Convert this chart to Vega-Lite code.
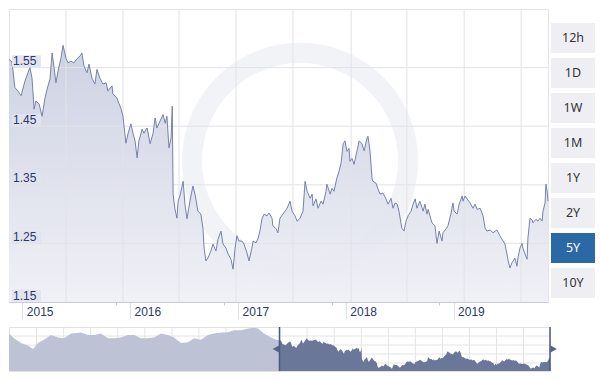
{
  "$schema": "https://vega.github.io/schema/vega-lite/v6.json",
  "padding": {"left": 6, "top": 8, "right": 0, "bottom": 0},
  "background": "#ffffff",
  "config": {"font": "Liberation Sans", "view": {"stroke": null}},
  "datasets": {
    "rates": [
      {"date":"2014-12-18","rate":1.564},{"date":"2014-12-28","rate":1.560},{"date":"2015-01-07","rate":1.516},{"date":"2015-01-17","rate":1.510},
      {"date":"2015-01-28","rate":1.502},{"date":"2015-02-10","rate":1.527},{"date":"2015-02-20","rate":1.541},{"date":"2015-02-27","rate":1.550},
      {"date":"2015-03-06","rate":1.532},{"date":"2015-03-13","rate":1.479},{"date":"2015-03-19","rate":1.493},{"date":"2015-03-30","rate":1.488},
      {"date":"2015-04-09","rate":1.467},{"date":"2015-04-19","rate":1.498},{"date":"2015-04-26","rate":1.513},{"date":"2015-05-06","rate":1.531},
      {"date":"2015-05-13","rate":1.575},{"date":"2015-05-19","rate":1.553},{"date":"2015-05-26","rate":1.524},{"date":"2015-06-02","rate":1.544},
      {"date":"2015-06-12","rate":1.566},{"date":"2015-06-19","rate":1.588},{"date":"2015-06-29","rate":1.566},{"date":"2015-07-06","rate":1.558},
      {"date":"2015-07-16","rate":1.561},{"date":"2015-07-26","rate":1.558},{"date":"2015-08-05","rate":1.565},{"date":"2015-08-16","rate":1.570},
      {"date":"2015-08-22","rate":1.575},{"date":"2015-08-29","rate":1.553},{"date":"2015-09-08","rate":1.541},{"date":"2015-09-15","rate":1.556},
      {"date":"2015-09-25","rate":1.532},{"date":"2015-10-05","rate":1.522},{"date":"2015-10-12","rate":1.547},{"date":"2015-10-22","rate":1.532},
      {"date":"2015-11-01","rate":1.522},{"date":"2015-11-12","rate":1.524},{"date":"2015-11-18","rate":1.510},{"date":"2015-12-02","rate":1.519},
      {"date":"2015-12-05","rate":1.505},{"date":"2015-12-19","rate":1.498},{"date":"2015-12-22","rate":1.493},{"date":"2016-01-01","rate":1.481},
      {"date":"2016-01-08","rate":1.467},{"date":"2016-01-18","rate":1.421},{"date":"2016-01-25","rate":1.437},{"date":"2016-02-04","rate":1.454},
      {"date":"2016-02-11","rate":1.438},{"date":"2016-02-18","rate":1.425},{"date":"2016-02-25","rate":1.396},{"date":"2016-03-02","rate":1.425},
      {"date":"2016-03-13","rate":1.445},{"date":"2016-03-19","rate":1.438},{"date":"2016-03-30","rate":1.447},{"date":"2016-04-09","rate":1.420},
      {"date":"2016-04-19","rate":1.438},{"date":"2016-04-26","rate":1.464},{"date":"2016-05-02","rate":1.447},{"date":"2016-05-13","rate":1.459},
      {"date":"2016-05-23","rate":1.470},{"date":"2016-05-30","rate":1.455},{"date":"2016-06-05","rate":1.467},{"date":"2016-06-12","rate":1.413},
      {"date":"2016-06-19","rate":1.430},{"date":"2016-06-23","rate":1.484},{"date":"2016-06-26","rate":1.334},{"date":"2016-07-02","rate":1.309},
      {"date":"2016-07-09","rate":1.293},{"date":"2016-07-13","rate":1.322},{"date":"2016-07-19","rate":1.331},{"date":"2016-07-30","rate":1.356},
      {"date":"2016-08-05","rate":1.317},{"date":"2016-08-12","rate":1.292},{"date":"2016-08-22","rate":1.322},{"date":"2016-09-01","rate":1.348},
      {"date":"2016-09-08","rate":1.334},{"date":"2016-09-18","rate":1.305},{"date":"2016-09-28","rate":1.300},{"date":"2016-10-05","rate":1.276},
      {"date":"2016-10-09","rate":1.242},{"date":"2016-10-15","rate":1.220},{"date":"2016-10-22","rate":1.225},{"date":"2016-11-01","rate":1.237},
      {"date":"2016-11-08","rate":1.249},{"date":"2016-11-18","rate":1.237},{"date":"2016-11-25","rate":1.257},{"date":"2016-12-05","rate":1.271},
      {"date":"2016-12-12","rate":1.249},{"date":"2016-12-22","rate":1.242},{"date":"2016-12-29","rate":1.232},{"date":"2017-01-08","rate":1.223},
      {"date":"2017-01-15","rate":1.206},{"date":"2017-01-22","rate":1.242},{"date":"2017-01-28","rate":1.263},{"date":"2017-02-04","rate":1.254},
      {"date":"2017-02-14","rate":1.254},{"date":"2017-02-21","rate":1.249},{"date":"2017-03-03","rate":1.234},{"date":"2017-03-10","rate":1.220},
      {"date":"2017-03-20","rate":1.242},{"date":"2017-03-24","rate":1.254},{"date":"2017-04-03","rate":1.251},{"date":"2017-04-10","rate":1.259},
      {"date":"2017-04-16","rate":1.271},{"date":"2017-04-23","rate":1.292},{"date":"2017-04-30","rate":1.300},{"date":"2017-05-10","rate":1.297},
      {"date":"2017-05-17","rate":1.302},{"date":"2017-05-27","rate":1.293},{"date":"2017-05-30","rate":1.280},{"date":"2017-06-10","rate":1.275},
      {"date":"2017-06-16","rate":1.268},{"date":"2017-06-23","rate":1.293},{"date":"2017-07-03","rate":1.300},{"date":"2017-07-10","rate":1.305},
      {"date":"2017-07-17","rate":1.310},{"date":"2017-07-27","rate":1.322},{"date":"2017-08-03","rate":1.305},{"date":"2017-08-13","rate":1.297},
      {"date":"2017-08-20","rate":1.288},{"date":"2017-08-27","rate":1.291},{"date":"2017-08-30","rate":1.293},{"date":"2017-09-09","rate":1.305},
      {"date":"2017-09-16","rate":1.356},{"date":"2017-09-23","rate":1.339},{"date":"2017-10-03","rate":1.327},{"date":"2017-10-10","rate":1.334},
      {"date":"2017-10-13","rate":1.314},{"date":"2017-10-23","rate":1.326},{"date":"2017-10-30","rate":1.310},{"date":"2017-11-09","rate":1.322},
      {"date":"2017-11-16","rate":1.317},{"date":"2017-11-26","rate":1.339},{"date":"2017-11-29","rate":1.351},{"date":"2017-12-10","rate":1.334},
      {"date":"2017-12-16","rate":1.344},{"date":"2017-12-23","rate":1.339},{"date":"2018-01-02","rate":1.362},{"date":"2018-01-09","rate":1.373},
      {"date":"2018-01-16","rate":1.387},{"date":"2018-01-23","rate":1.420},{"date":"2018-01-29","rate":1.425},{"date":"2018-02-05","rate":1.407},
      {"date":"2018-02-12","rate":1.412},{"date":"2018-02-15","rate":1.390},{"date":"2018-02-22","rate":1.395},{"date":"2018-03-01","rate":1.385},
      {"date":"2018-03-11","rate":1.408},{"date":"2018-03-18","rate":1.425},{"date":"2018-03-28","rate":1.420},{"date":"2018-04-04","rate":1.408},
      {"date":"2018-04-14","rate":1.430},{"date":"2018-04-17","rate":1.433},{"date":"2018-04-24","rate":1.408},{"date":"2018-05-01","rate":1.360},
      {"date":"2018-05-04","rate":1.356},{"date":"2018-05-14","rate":1.353},{"date":"2018-05-21","rate":1.343},{"date":"2018-05-28","rate":1.334},
      {"date":"2018-06-07","rate":1.336},{"date":"2018-06-17","rate":1.326},{"date":"2018-06-24","rate":1.317},{"date":"2018-07-04","rate":1.327},
      {"date":"2018-07-11","rate":1.310},{"date":"2018-07-18","rate":1.319},{"date":"2018-07-25","rate":1.317},{"date":"2018-07-31","rate":1.305},
      {"date":"2018-08-10","rate":1.276},{"date":"2018-08-17","rate":1.271},{"date":"2018-08-24","rate":1.288},{"date":"2018-08-31","rate":1.297},
      {"date":"2018-09-10","rate":1.305},{"date":"2018-09-17","rate":1.317},{"date":"2018-09-24","rate":1.326},{"date":"2018-09-30","rate":1.310},
      {"date":"2018-10-10","rate":1.322},{"date":"2018-10-21","rate":1.305},{"date":"2018-10-27","rate":1.317},{"date":"2018-11-03","rate":1.300},
      {"date":"2018-11-07","rate":1.308},{"date":"2018-11-20","rate":1.285},{"date":"2018-11-30","rate":1.280},{"date":"2018-12-07","rate":1.250},
      {"date":"2018-12-14","rate":1.271},{"date":"2018-12-24","rate":1.254},{"date":"2018-12-27","rate":1.268},{"date":"2019-01-07","rate":1.275},
      {"date":"2019-01-13","rate":1.280},{"date":"2019-01-23","rate":1.300},{"date":"2019-01-30","rate":1.319},{"date":"2019-02-03","rate":1.305},
      {"date":"2019-02-13","rate":1.300},{"date":"2019-02-20","rate":1.317},{"date":"2019-03-02","rate":1.331},{"date":"2019-03-05","rate":1.322},
      {"date":"2019-03-12","rate":1.331},{"date":"2019-03-19","rate":1.326},{"date":"2019-03-29","rate":1.319},{"date":"2019-04-08","rate":1.310},
      {"date":"2019-04-15","rate":1.317},{"date":"2019-04-22","rate":1.308},{"date":"2019-05-02","rate":1.310},{"date":"2019-05-12","rate":1.297},
      {"date":"2019-05-19","rate":1.276},{"date":"2019-05-25","rate":1.271},{"date":"2019-06-05","rate":1.273},{"date":"2019-06-15","rate":1.268},
      {"date":"2019-06-22","rate":1.271},{"date":"2019-06-28","rate":1.273},{"date":"2019-07-08","rate":1.263},{"date":"2019-07-19","rate":1.254},
      {"date":"2019-07-25","rate":1.249},{"date":"2019-08-01","rate":1.232},{"date":"2019-08-05","rate":1.220},{"date":"2019-08-11","rate":1.208},
      {"date":"2019-08-18","rate":1.217},{"date":"2019-08-28","rate":1.225},{"date":"2019-09-04","rate":1.211},{"date":"2019-09-07","rate":1.225},
      {"date":"2019-09-14","rate":1.242},{"date":"2019-09-21","rate":1.250},{"date":"2019-09-24","rate":1.242},{"date":"2019-10-01","rate":1.232},
      {"date":"2019-10-08","rate":1.223},{"date":"2019-10-11","rate":1.259},{"date":"2019-10-18","rate":1.293},{"date":"2019-10-25","rate":1.290},
      {"date":"2019-10-28","rate":1.285},{"date":"2019-11-07","rate":1.291},{"date":"2019-11-14","rate":1.288},{"date":"2019-11-21","rate":1.293},
      {"date":"2019-11-28","rate":1.288},{"date":"2019-12-01","rate":1.305},{"date":"2019-12-08","rate":1.319},{"date":"2019-12-11","rate":1.351},
      {"date":"2019-12-15","rate":1.339},{"date":"2019-12-18","rate":1.322}
    ],
    "early": [
      {"date":"2009-12-18","rate":1.645},{"date":"2010-01-21","rate":1.59},{"date":"2010-03-09","rate":1.53},{"date":"2010-04-25","rate":1.50},
      {"date":"2010-05-29","rate":1.455},{"date":"2010-07-02","rate":1.53},{"date":"2010-08-11","rate":1.57},{"date":"2010-09-28","rate":1.63},
      {"date":"2010-11-14","rate":1.60},{"date":"2010-12-24","rate":1.59},{"date":"2011-02-10","rate":1.65},{"date":"2011-04-18","rate":1.66},
      {"date":"2011-06-04","rate":1.63},{"date":"2011-07-15","rate":1.63},{"date":"2011-08-31","rate":1.65},{"date":"2011-10-17","rate":1.59},
      {"date":"2011-11-27","rate":1.59},{"date":"2012-01-13","rate":1.60},{"date":"2012-02-29","rate":1.63},{"date":"2012-04-10","rate":1.63},
      {"date":"2012-05-27","rate":1.59},{"date":"2012-07-13","rate":1.59},{"date":"2012-08-23","rate":1.60},{"date":"2012-10-09","rate":1.65},
      {"date":"2012-11-25","rate":1.63},{"date":"2013-01-05","rate":1.60},{"date":"2013-02-21","rate":1.53},{"date":"2013-04-10","rate":1.54},
      {"date":"2013-05-20","rate":1.59},{"date":"2013-07-06","rate":1.57},{"date":"2013-08-22","rate":1.63},{"date":"2013-10-02","rate":1.65},
      {"date":"2013-11-18","rate":1.66},{"date":"2014-01-04","rate":1.665},{"date":"2014-02-14","rate":1.69},{"date":"2014-04-02","rate":1.69},
      {"date":"2014-05-20","rate":1.71},{"date":"2014-06-29","rate":1.72},{"date":"2014-07-26","rate":1.71},{"date":"2014-09-04","rate":1.65},
      {"date":"2014-10-22","rate":1.60},{"date":"2014-11-24","rate":1.57},{"date":"2014-12-18","rate":1.564}
    ],
    "vgrid": [
      {"date":"2015-06-29"},{"date":"2016-01-08"},{"date":"2016-07-16"},{"date":"2017-01-25"},{"date":"2017-08-06"},
      {"date":"2018-02-19"},{"date":"2018-08-27"},{"date":"2019-03-09"},{"date":"2019-09-18"}
    ],
    "hgrid": [{"rate":1.25},{"rate":1.35},{"rate":1.45},{"rate":1.55}],
    "ylab": [{"rate":1.55},{"rate":1.45},{"rate":1.35},{"rate":1.25},{"rate":1.15}],
    "ngrid": [
      {"date":"2010-06-22"},{"date":"2010-12-22"},{"date":"2011-06-22"},{"date":"2011-12-22"},{"date":"2012-06-22"},
      {"date":"2012-12-22"},{"date":"2013-06-22"},{"date":"2013-12-22"},{"date":"2014-06-22"},{"date":"2014-12-22"},
      {"date":"2015-06-22"},{"date":"2015-12-22"},{"date":"2016-06-22"},{"date":"2016-12-22"},{"date":"2017-06-22"},
      {"date":"2017-12-22"},{"date":"2018-06-22"},{"date":"2018-12-22"},{"date":"2019-06-22"}
    ],
    "ngridh": [{"rate":1.28},{"rate":1.3925},{"rate":1.505},{"rate":1.6175}],
    "handles": [{"date":"2014-12-18","dir":"left"},{"date":"2019-12-18","dir":"right"}],
    "buttons": [
      {"label":"12h"},{"label":"1D"},{"label":"1W"},{"label":"1M"},
      {"label":"1Y"},{"label":"2Y"},{"label":"5Y"},{"label":"10Y"}
    ]
  },
  "spacing": 5,
  "vconcat": [
    {
      "spacing": 0,
      "hconcat": [
        {
          "width": 539,
          "height": 293,
          "view": {"stroke": "#e4e4ea"},
          "resolve": {"axis": {"x": "independent"}},
          "layer": [
            {
              "data": {"values": [{}]},
              "mark": {"type": "point", "shape": "circle", "filled": false, "size": 46656, "stroke": "#f2f3f7", "strokeWidth": 20, "opacity": 1},
              "encoding": {
                "x": {"datum": {"year": 2017, "month": 8, "date": 30, "utc": true}, "type": "temporal", "axis": null},
                "y": {"datum": 1.391, "type": "quantitative", "axis": null}
              }
            },
            {
              "data": {"name": "rates"},
              "mark": {"type": "area", "clip": true, "opacity": 0.92, "color": {"gradient": "linear", "x1": 0, "y1": 0, "x2": 0, "y2": 1, "stops": [{"offset": 0, "color": "#c9cde0"}, {"offset": 1, "color": "#eff0f6"}]}},
              "encoding": {
                "x": {"field": "date", "type": "temporal",
                  "scale": {"domain": [{"year": 2014, "month": 12, "date": 18, "utc": true}, {"year": 2019, "month": 12, "date": 18, "utc": true}]},
                  "axis": {"orient": "bottom", "title": null, "grid": false, "domain": false,
                    "values": [{"year": 2015, "month": 2, "date": 1, "utc": true}, {"year": 2016, "month": 2, "date": 1, "utc": true}, {"year": 2017, "month": 2, "date": 1, "utc": true}, {"year": 2018, "month": 2, "date": 1, "utc": true}, {"year": 2019, "month": 2, "date": 1, "utc": true}],
                    "format": "%Y",
                    "labelAlign": "left", "labelOffset": 4, "labelBaseline": "top", "labelPadding": -12.5,
                    "tickSize": 17, "tickColor": "#dcdee6", "labelColor": "#2a3768", "labelFontSize": 12,
                    "labelFont": "Liberation Sans", "labelFlush": false, "labelOverlap": false}},
                "y": {"field": "rate", "type": "quantitative", "scale": {"domain": [1.15, 1.65], "zero": false, "nice": false}, "axis": null},
                "y2": {"datum": 1.15}
              }
            },
            {
              "data": {"name": "vgrid"},
              "mark": {"type": "rule", "color": "#e2e2e8", "strokeWidth": 1},
              "encoding": {"x": {"field": "date", "type": "temporal", "axis": null}}
            },
            {
              "data": {"name": "hgrid"},
              "mark": {"type": "rule", "color": "#e2e2e8", "strokeWidth": 1},
              "encoding": {"y": {"field": "rate", "type": "quantitative", "axis": null}}
            },
            {
              "data": {"name": "rates"},
              "mark": {"type": "line", "color": "#7682ab", "strokeWidth": 1},
              "encoding": {
                "x": {"field": "date", "type": "temporal",
                  "axis": {"orient": "bottom", "title": null, "grid": false, "labels": false, "domain": true,
                    "domainColor": "#c6c9da",
                    "values": [{"year": 2015, "month": 12, "date": 17, "utc": true}, {"year": 2016, "month": 12, "date": 15, "utc": true}, {"year": 2017, "month": 12, "date": 15, "utc": true}, {"year": 2018, "month": 12, "date": 15, "utc": true}],
                    "tickSize": 3, "tickColor": "#c6c9da"}},
                "y": {"field": "rate", "type": "quantitative", "axis": null}
              }
            },
            {
              "data": {"name": "ylab"},
              "mark": {"type": "point", "shape": "M-1,-0.4H1V0.4H-1Z", "size": 841, "filled": true, "color": "#e0e3ee", "opacity": 0.95, "xOffset": 17.5, "yOffset": -6.5},
              "encoding": {
                "x": {"datum": {"year": 2014, "month": 12, "date": 18, "utc": true}, "type": "temporal", "axis": null},
                "y": {"field": "rate", "type": "quantitative", "axis": null}
              }
            },
            {
              "data": {"name": "ylab"},
              "mark": {"type": "text", "align": "left", "baseline": "middle", "dx": 4, "dy": -6.5, "fontSize": 12, "font": "Liberation Sans", "color": "#2a3768"},
              "encoding": {
                "x": {"datum": {"year": 2014, "month": 12, "date": 18, "utc": true}, "type": "temporal", "axis": null},
                "y": {"field": "rate", "type": "quantitative", "axis": null},
                "text": {"field": "rate", "type": "quantitative", "format": ".2f"}
              }
            }
          ]
        },
        {
          "width": 44,
          "height": 293,
          "data": {"name": "buttons"},
          "encoding": {
            "y": {"field": "label", "type": "nominal", "sort": null, "axis": null,
              "scale": {"paddingInner": 0.143, "paddingOuter": 0.257, "align": 0.78}}
          },
          "layer": [
            {
              "mark": {"type": "rect"},
              "encoding": {"color": {"condition": {"test": "datum.label === '5Y'", "value": "#2b68a6"}, "value": "#efeff3"}}
            },
            {
              "mark": {"type": "text", "font": "Noto Sans", "fontSize": 12.5},
              "encoding": {
                "text": {"field": "label", "type": "nominal"},
                "color": {"condition": {"test": "datum.label === '5Y'", "value": "#ffffff"}, "value": "#333333"}
              }
            }
          ]
        }
      ]
    },
    {
      "width": 541,
      "height": 44,
      "view": {"stroke": "#e2e2e6"},
      "layer": [
        {
          "data": {"name": "ngridh"},
          "mark": {"type": "rule", "color": "#e4e4e8"},
          "encoding": {"y": {"field": "rate", "type": "quantitative", "scale": {"domain": [1.18, 1.73], "zero": false, "nice": false}, "axis": null}}
        },
        {
          "data": {"name": "ngrid"},
          "mark": {"type": "rule", "color": "#e4e4e8"},
          "encoding": {"x": {"field": "date", "type": "temporal",
            "scale": {"domain": [{"year": 2009, "month": 12, "date": 18, "utc": true}, {"year": 2019, "month": 12, "date": 18, "utc": true}]}, "axis": null}}
        },
        {
          "data": {"name": "early"},
          "mark": {"type": "area", "color": "#bdc3d4", "opacity": 1},
          "encoding": {
            "x": {"field": "date", "type": "temporal", "axis": null},
            "y": {"field": "rate", "type": "quantitative", "axis": null},
            "y2": {"datum": 1.18}
          }
        },
        {
          "data": {"name": "rates"},
          "mark": {"type": "area", "color": "#6b7799", "opacity": 1},
          "encoding": {
            "x": {"field": "date", "type": "temporal", "axis": null},
            "y": {"field": "rate", "type": "quantitative", "axis": null},
            "y2": {"datum": 1.18}
          }
        },
        {
          "data": {"name": "handles"},
          "mark": {"type": "rule", "color": "#4b5783", "strokeWidth": 1.5},
          "encoding": {"x": {"field": "date", "type": "temporal", "axis": null}}
        },
        {
          "data": {"name": "handles"},
          "transform": [{"filter": "datum.dir === 'left'"}],
          "mark": {"type": "point", "shape": "triangle-left", "filled": true, "size": 60, "color": "#56628c", "opacity": 1, "xOffset": -3.5},
          "encoding": {"x": {"field": "date", "type": "temporal", "axis": null}}
        },
        {
          "data": {"name": "handles"},
          "transform": [{"filter": "datum.dir === 'right'"}],
          "mark": {"type": "point", "shape": "triangle-right", "filled": true, "size": 60, "color": "#56628c", "opacity": 1, "xOffset": 3.5},
          "encoding": {"x": {"field": "date", "type": "temporal", "axis": null}}
        }
      ]
    }
  ]
}
